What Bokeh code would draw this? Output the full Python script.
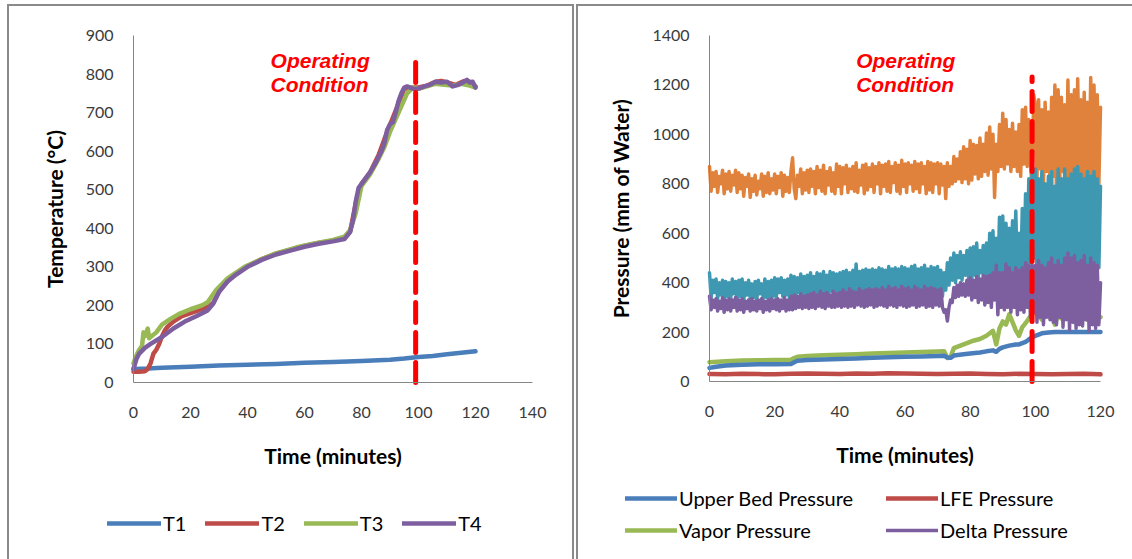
from bokeh.plotting import figure
from bokeh.layouts import row
from bokeh.models import Range1d, Legend, LegendItem, Label, FixedTicker
from bokeh.embed import file_html
from bokeh.resources import INLINE

# ---------------- data: temperature chart ----------------
t_ticks_x = [0, 20, 40, 60, 80, 100, 120, 140]
t_ticks_y = [0, 100, 200, 300, 400, 500, 600, 700, 800, 900]

t1_time = [0, 5, 10, 20, 30, 40, 50, 60, 70, 80, 90, 95, 100, 105, 110, 115, 120]
t1_vals = [35, 36, 38, 41, 44, 46, 48, 51, 53, 56, 59, 62, 66, 69, 73, 77, 81]

t2_time = [0, 2, 4, 5, 6, 7, 8, 9, 10, 11, 12, 14, 17, 20, 23, 26, 28, 30, 33, 36, 40, 45, 50, 55, 60,
           65, 70, 74, 76, 78, 80, 83, 86, 89, 92, 95, 98, 100, 103, 106, 108, 110, 113, 116, 118, 120]
t2_vals = [28, 28, 29, 35, 50, 75, 85, 100, 120, 135, 145, 158, 172, 180, 188, 196, 207, 236, 263, 282,
           302, 320, 334, 344, 354, 362, 368, 374, 392, 465, 515, 545, 590, 650, 705, 762, 765, 765, 770,
           780, 782, 778, 772, 782, 780, 768]

t3_time = [0, 1, 2, 3, 3.5, 4, 5, 5.5, 6, 8, 10, 13, 16, 20, 24, 26, 29, 33, 39, 45, 50, 57, 63, 70, 74,
           76, 78, 80, 83, 86, 88, 90, 93, 96, 98, 100, 103, 106, 109, 112, 115, 118, 120]
t3_vals = [50, 70, 85, 95, 130, 120, 140, 115, 118, 130, 150, 165, 178, 190, 200, 208, 240, 270, 300, 320,
           335, 350, 360, 370, 378, 395, 440, 510, 540, 580, 610, 650, 700, 750, 765, 762, 768, 775, 772,
           770, 775, 770, 765]

t4_time = [0, 1, 2, 4, 6, 10, 14, 18, 22, 26, 28, 30, 33, 36, 40, 45, 50, 55, 60, 65, 70, 74, 76, 77, 78,
           79, 81, 83, 85, 87, 88, 89, 90, 91, 92, 93, 94, 95, 96, 98, 100, 102, 104, 106, 108, 110, 112,
           114, 116, 117, 118, 119, 120]
t4_vals = [35, 60, 75, 90, 100, 118, 140, 158, 172, 187, 205, 235, 262, 280, 300, 318, 332, 342, 352, 360,
           366, 372, 390, 420, 470, 505, 525, 545, 570, 600, 620, 655, 670, 675, 700, 730, 750, 765, 768,
           762, 762, 768, 772, 780, 778, 780, 768, 772, 780, 785, 778, 780, 765]

# ---------------- data: pressure chart ----------------
p_ticks_x = [0, 20, 40, 60, 80, 100, 120]
p_ticks_y = [0, 200, 400, 600, 800, 1000, 1200, 1400]

# noisy series sampled every half minute (0 .. 120)
p_time = [i / 2 for i in range(241)]

orange_vals = [
    870, 770, 845, 790, 850, 765, 830, 800, 855, 760, 840, 780, 850, 770, 835, 795, 855, 765, 845, 780,
    835, 750, 825, 790, 840, 745, 820, 770, 835, 755, 810, 780, 840, 750, 830, 765, 845, 760, 820, 775,
    840, 760, 830, 785, 845, 750, 835, 770, 825, 765, 850, 905, 780, 740, 835, 790, 860, 760, 845, 775,
    855, 765, 860, 790, 850, 760, 870, 785, 855, 770, 875, 760, 850, 795, 865, 770, 845, 760, 880, 790,
    870, 760, 865, 800, 875, 765, 860, 780, 870, 770, 885, 765, 855, 795, 875, 760, 880, 775, 865, 790,
    880, 765, 870, 800, 885, 760, 875, 790, 880, 770, 890, 765, 870, 805, 885, 770, 875, 760, 895, 790,
    880, 765, 885, 800, 875, 770, 890, 780, 880, 765, 885, 800, 870, 760, 890, 775, 885, 765, 880, 800,
    885, 760, 880, 795, 870, 740, 885, 790, 870, 800, 910, 810, 900, 820, 930, 805, 950, 820, 940, 800,
    975, 815, 960, 840, 955, 820, 985, 830, 960, 850, 1005, 835, 1030, 860, 1000, 745, 960, 850, 1040, 870,
    1085, 860, 1060, 880, 1020, 850, 1045, 870, 1010, 850, 1040, 830, 1100, 880, 1110, 870, 1060, 900, 760, 1160,
    1120, 820, 1140, 860, 1100, 800, 1130, 850, 1090, 790, 1150, 830, 1200, 745, 1180, 810, 1150, 850, 1120, 800,
    1220, 800, 1160, 830, 1180, 790, 1225, 850, 1140, 800, 1170, 830, 1130, 810, 1230, 790, 1200, 820, 1160, 800,
    1110]

teal_vals = [
    440, 340, 410, 360, 415, 335, 400, 350, 410, 330, 405, 345, 400, 335, 415, 355, 405, 330, 410, 345,
    415, 325, 400, 350, 410, 335, 395, 340, 405, 330, 410, 355, 395, 335, 415, 340, 405, 335, 410, 345,
    420, 340, 415, 360, 420, 345, 410, 350, 415, 340, 430, 355, 425, 345, 420, 360, 435, 345, 425, 355,
    430, 350, 440, 365, 425, 345, 440, 360, 435, 350, 445, 360, 430, 355, 445, 365, 440, 350, 435, 360,
    440, 355, 445, 370, 450, 360, 440, 355, 450, 365, 475, 360, 445, 370, 450, 360, 455, 365, 450, 370,
    455, 360, 450, 375, 460, 365, 455, 370, 450, 365, 465, 370, 455, 375, 460, 365, 455, 370, 465, 375,
    460, 365, 455, 370, 465, 360, 470, 375, 455, 365, 460, 370, 470, 365, 455, 375, 465, 370, 460, 375,
    465, 360, 450, 345, 440, 370, 480, 390, 500, 410, 520, 400, 510, 420, 525, 410, 510, 430, 530, 420,
    540, 415, 545, 430, 560, 420, 530, 440, 550, 410, 560, 420, 600, 430, 610, 400, 580, 420, 665, 430,
    670, 410, 640, 430, 620, 400, 650, 420, 690, 410, 600, 420, 700, 450, 760, 470, 820, 480, 840, 500,
    860, 440, 820, 480, 850, 450, 800, 470, 830, 440, 850, 460, 790, 430, 860, 470, 820, 450, 860, 480,
    820, 440, 840, 470, 860, 450, 870, 430, 840, 460, 820, 440, 850, 470, 830, 450, 850, 420, 820, 460,
    790]

delta_vals = [
    345, 290, 330, 300, 335, 285, 325, 295, 340, 280, 330, 290, 335, 285, 330, 300, 340, 285, 330, 290,
    335, 280, 325, 295, 330, 285, 335, 290, 325, 285, 330, 295, 335, 280, 325, 290, 330, 285, 335, 295,
    330, 290, 335, 285, 330, 295, 340, 285, 330, 290, 345, 290, 350, 295, 345, 300, 355, 295, 345, 300,
    350, 295, 355, 300, 360, 295, 350, 305, 365, 300, 355, 295, 360, 305, 350, 300, 365, 300, 355, 305,
    360, 300, 370, 305, 360, 300, 375, 305, 365, 300, 360, 310, 375, 305, 365, 300, 370, 305, 375, 310,
    370, 300, 375, 305, 370, 310, 380, 305, 370, 300, 385, 310, 375, 305, 380, 300, 370, 310, 385, 305,
    375, 300, 380, 305, 370, 310, 385, 300, 375, 305, 370, 310, 385, 300, 375, 305, 380, 300, 375, 310,
    370, 305, 375, 300, 280, 290, 245, 300, 330, 320, 380, 340, 390, 345, 400, 350, 395, 345, 410, 350,
    420, 330, 410, 340, 425, 320, 415, 330, 430, 310, 425, 320, 430, 300, 440, 330, 470, 270, 440, 300,
    440, 290, 475, 300, 460, 280, 440, 300, 460, 270, 450, 290, 460, 280, 480, 300, 470, 260, 470, 280,
    470, 240, 490, 260, 470, 230, 460, 260, 480, 250, 500, 240, 470, 230, 490, 260, 470, 220, 500, 250,
    520, 210, 500, 240, 510, 215, 480, 230, 490, 225, 510, 250, 470, 205, 500, 230, 480, 215, 470, 230,
    400]

vapor_time = [0, 5, 10, 15, 20, 25, 26, 27, 30, 35, 40, 45, 50, 55, 60, 65, 70, 72, 73, 74, 75, 77, 79, 81,
              83, 85, 86, 87, 88, 89, 90, 91, 92, 93, 94, 95, 96, 97, 98, 99, 100, 102, 104, 105, 106, 107,
              108, 110, 112, 114, 116, 118, 120]
vapor_vals = [78, 82, 85, 86, 87, 88, 95, 100, 103, 106, 108, 110, 113, 115, 117, 119, 121, 122, 95, 100,
              135, 145, 155, 165, 172, 185, 195, 205, 150, 215, 243, 230, 272, 240, 207, 185, 220, 236, 255,
              272, 285, 250, 275, 290, 230, 270, 255, 280, 240, 285, 250, 275, 260]

upper_time = [0, 2, 5, 10, 15, 20, 25, 26, 27, 30, 35, 40, 45, 50, 55, 60, 65, 70, 72, 73, 74, 75, 78, 80,
              83, 85, 87, 88, 89, 90, 92, 94, 95, 97, 98, 99, 100, 101, 102, 104, 106, 110, 115, 120]
upper_vals = [55, 60, 65, 68, 70, 70, 71, 78, 84, 87, 89, 91, 93, 96, 98, 100, 101, 103, 104, 97, 96, 105,
              110, 113, 117, 122, 126, 120, 132, 138, 145, 150, 150, 160, 170, 178, 185, 190, 195, 198,
              200, 200, 200, 200]

lfe_time = [0, 5, 10, 15, 20, 25, 30, 35, 40, 45, 50, 55, 60, 65, 70, 75, 80, 85, 90, 95, 100, 105, 110,
            115, 120]
lfe_vals = [30, 29, 31, 30, 29, 31, 32, 31, 30, 32, 31, 33, 32, 31, 30, 31, 32, 30, 29, 31, 30, 29, 30,
            31, 29]

op_time = 99
op_top_temp = 853
op_top_press = 1232
op_text = ["Operating", "Condition"]

# ---------------- styling / layout (pixels) ----------------
C_BLUE = "#4a7ebb"
C_RED = "#be4b48"
C_GREEN = "#98b954"
C_PURPLE = "#7d5fa0"
C_TEAL = "#3f98b2"
C_ORANGE = "#e0823c"
FONT = "Lato"
BORDER = "0 0 0 2px #8a8a8a"


def view_range(v0, v1, p0, p1, lo_px, hi_px):
    """Range whose ends fall on pixel positions lo_px/hi_px, given value v0 at p0 and v1 at p1."""
    k = (v1 - v0) / (p1 - p0)
    return Range1d(v0 + (lo_px - p0) * k, v0 + (hi_px - p0) * k)


def style_axes(p, xt, yt, xb, yb, ylabel):
    p.xaxis.ticker = FixedTicker(ticks=xt)
    p.yaxis.ticker = FixedTicker(ticks=yt)
    p.xaxis.fixed_location = 0
    p.yaxis.fixed_location = 0
    p.xaxis.bounds = xb
    p.yaxis.bounds = yb
    p.xgrid.visible = False
    p.ygrid.visible = False
    p.outline_line_color = None
    for ax in (p.xaxis[0], p.yaxis[0]):
        ax.axis_line_color = "#868686"
        ax.axis_line_width = 1
        ax.major_tick_line_color = None
        ax.minor_tick_line_color = None
        ax.major_tick_out = 0
        ax.major_tick_in = 0
        ax.minor_tick_out = 0
        ax.major_label_text_font = FONT
        ax.major_label_text_font_size = "16px"
        ax.major_label_text_color = "#3a3a3a"
        ax.axis_label_text_font = FONT
        ax.axis_label_text_font_style = "bold"
        ax.axis_label_text_font_size = "21px"
        ax.axis_label_text_color = "#000000"
    p.xaxis.axis_label = "Time (minutes)"
    p.yaxis.axis_label = ylabel
    p.xaxis.major_label_standoff = 24
    p.xaxis.axis_label_standoff = 22
    p.yaxis.major_label_standoff = 20
    p.yaxis.axis_label_standoff = 16


def op_labels(p, x, y1, y2):
    for txt, yy in zip(op_text, (y1, y2)):
        p.add_layout(Label(x=x, y=yy, text=txt, text_color="#ff0000", text_font="Liberation Sans",
                           text_font_style="bold italic", text_font_size="21px",
                           text_align="left", text_baseline="middle"))


def make_legend(items, loc, orientation, spacing, glyph_w, **kw):
    return Legend(items=items, location=loc, orientation=orientation, spacing=spacing,
                  glyph_width=glyph_w, glyph_height=20, label_standoff=2, padding=0, margin=0,
                  border_line_color=None, background_fill_alpha=0,
                  label_text_font=FONT, label_text_font_size="20px", label_text_color="#000000", **kw)


LW = dict(line_cap="round", line_join="round")

# ---------------- left: temperature ----------------
# canvas occupies page x 9..572, y 6..559 ; axis origin at (133, 382)
p1 = figure(width=563, height=553,
            x_range=view_range(0, 140, 133, 532, 9, 572),
            y_range=view_range(0, 900, 382, 35, 559, 6),
            output_backend="svg", toolbar_location=None,
            min_border_left=0, min_border_right=0, min_border_top=0, min_border_bottom=0)
p1.margin = (6, 0, 0, 9)
p1.styles = {"box-shadow": BORDER}
style_axes(p1, t_ticks_x, t_ticks_y, (0, 140), (0, 900), "Temperature (°C)")

r1 = p1.line(t1_time, t1_vals, line_color=C_BLUE, line_width=4.5, **LW)
r2 = p1.line(t2_time, t2_vals, line_color=C_RED, line_width=4.5, **LW)
r3 = p1.line(t3_time, t3_vals, line_color=C_GREEN, line_width=4.5, **LW)
r4 = p1.line(t4_time, t4_vals, line_color=C_PURPLE, line_width=4.5, **LW)
p1.segment(x0=[op_time], y0=[0], x1=[op_time], y1=[op_top_temp], line_color="#ff0000",
           line_width=5, line_dash="20 10", line_cap="round")
op_labels(p1, 48.1, 835, 773)

leg1 = make_legend([LegendItem(label="T1", renderers=[r1]), LegendItem(label="T2", renderers=[r2]),
                    LegendItem(label="T3", renderers=[r3]), LegendItem(label="T4", renderers=[r4])],
                   (98, 24), "horizontal", 19, 54)
p1.add_layout(leg1)

# ---------------- right: pressure ----------------
# canvas occupies page x 578..1132, y 6..559 ; axis origin at (709, 381)
p2 = figure(width=554, height=553,
            x_range=view_range(0, 120, 709, 1100, 578, 1132),
            y_range=view_range(0, 1400, 381, 35, 559, 6),
            output_backend="svg", toolbar_location=None,
            min_border_left=0, min_border_right=0, min_border_top=0, min_border_bottom=0)
p2.margin = (6, 0, 0, 6)
p2.styles = {"box-shadow": BORDER}
style_axes(p2, p_ticks_x, p_ticks_y, (0, 120), (0, 1400), "Pressure (mm of Water)")

p2.line(p_time, orange_vals, line_color=C_ORANGE, line_width=3.5, **LW)
p2.line(p_time, teal_vals, line_color=C_TEAL, line_width=3.5, **LW)
rv = p2.line(vapor_time, vapor_vals, line_color=C_GREEN, line_width=4.5, **LW)
ru = p2.line(upper_time, upper_vals, line_color=C_BLUE, line_width=4.5, **LW)
rl = p2.line(lfe_time, lfe_vals, line_color=C_RED, line_width=4.5, **LW)
rd = p2.line(p_time, delta_vals, line_color=C_PURPLE, line_width=3.5, **LW)
p2.segment(x0=[op_time], y0=[0], x1=[op_time], y1=[op_top_press], line_color="#ff0000",
           line_width=5, line_dash="20 10", line_cap="round")
op_labels(p2, 45, 1299, 1202)

leg2 = make_legend([LegendItem(label="Upper Bed Pressure", renderers=[ru]),
                    LegendItem(label="Vapor Pressure", renderers=[rv]),
                    LegendItem(label="LFE Pressure", renderers=[rl]),
                    LegendItem(label="Delta Pressure", renderers=[rd])],
                   (47, 17), "vertical", 8, 52, ncols=2, label_width=199)
p2.add_layout(leg2)

layout = row(p1, p2, spacing=0)
open("out.html", "w").write(file_html(layout, INLINE))
